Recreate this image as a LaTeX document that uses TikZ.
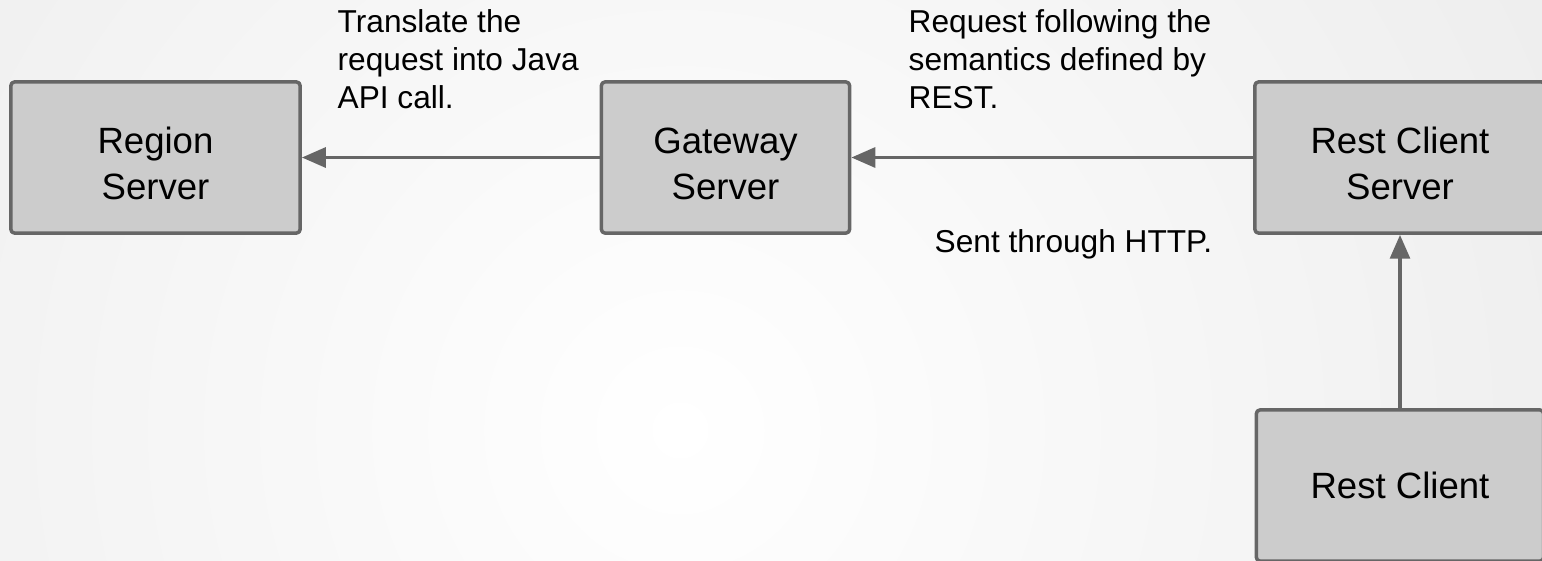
\documentclass[tikz,border=0pt]{standalone}
\usepackage{fontspec}
\setmainfont{Liberation Sans}
\usetikzlibrary{arrows.meta}
\definecolor{boxfill}{HTML}{CCCCCC}
\definecolor{boxline}{HTML}{666666}
\pgfdeclareradialshading{bgshade}{\pgfpoint{0bp}{0bp}}{color(0bp)=(white); color(50bp)=(black!14)}
\begin{document}
\begin{tikzpicture}[x=0.01cm,y=-0.01cm,>={Triangle[length=6.8pt,width=5.6pt]},line join=round,
	server/.style={draw=boxline,fill=boxfill,line width=1pt,rounded corners=1pt,align=center,
		font=\fontsize{10.4}{12.8}\selectfont,inner sep=0pt},
	note/.style={align=left,inner sep=0pt,font=\fontsize{9}{10.8}\selectfont},
	link/.style={->,draw=boxline,fill=boxline,line width=1.1pt}]
	\def\W{1542}
	\def\H{560}
	\def\up{\rule{0pt}{10.9pt}}
	\useasboundingbox (0,0) rectangle (\W,\H);
	\clip (0,0) rectangle (\W,\H);
	\shade [shading=bgshade] (680,430) circle [radius=10cm];
	\node [server,minimum width=2.89cm,minimum height=1.51cm] (region) at (155.5,157.5) {\up Region\\Server};
	\node [server,minimum width=2.48cm,minimum height=1.51cm] (gateway) at (725.5,157.5) {\up Gateway\\Server};
	\node [server,minimum width=2.90cm,minimum height=1.51cm] (restserver) at (1400,157.5) {\up Rest Client\\Server};
	\node [server,minimum width=2.87cm,minimum height=1.51cm] (restclient) at (1400,485.5) {Rest Client};
	\draw [link] (gateway) -- (region);
	\draw [link] (restserver) -- (gateway);
	\draw [link] (restclient) -- (restserver);
	\node [note,anchor=north west] (translate) at (337,9) {Translate the\\request into Java\\API call.};
	\node [note,anchor=north west] (semantics) at (908,9) {Request following the\\semantics defined by\\REST.};
	\node [note,anchor=base west] (http) at (934,252) {Sent through HTTP.};
\end{tikzpicture}
\end{document}
